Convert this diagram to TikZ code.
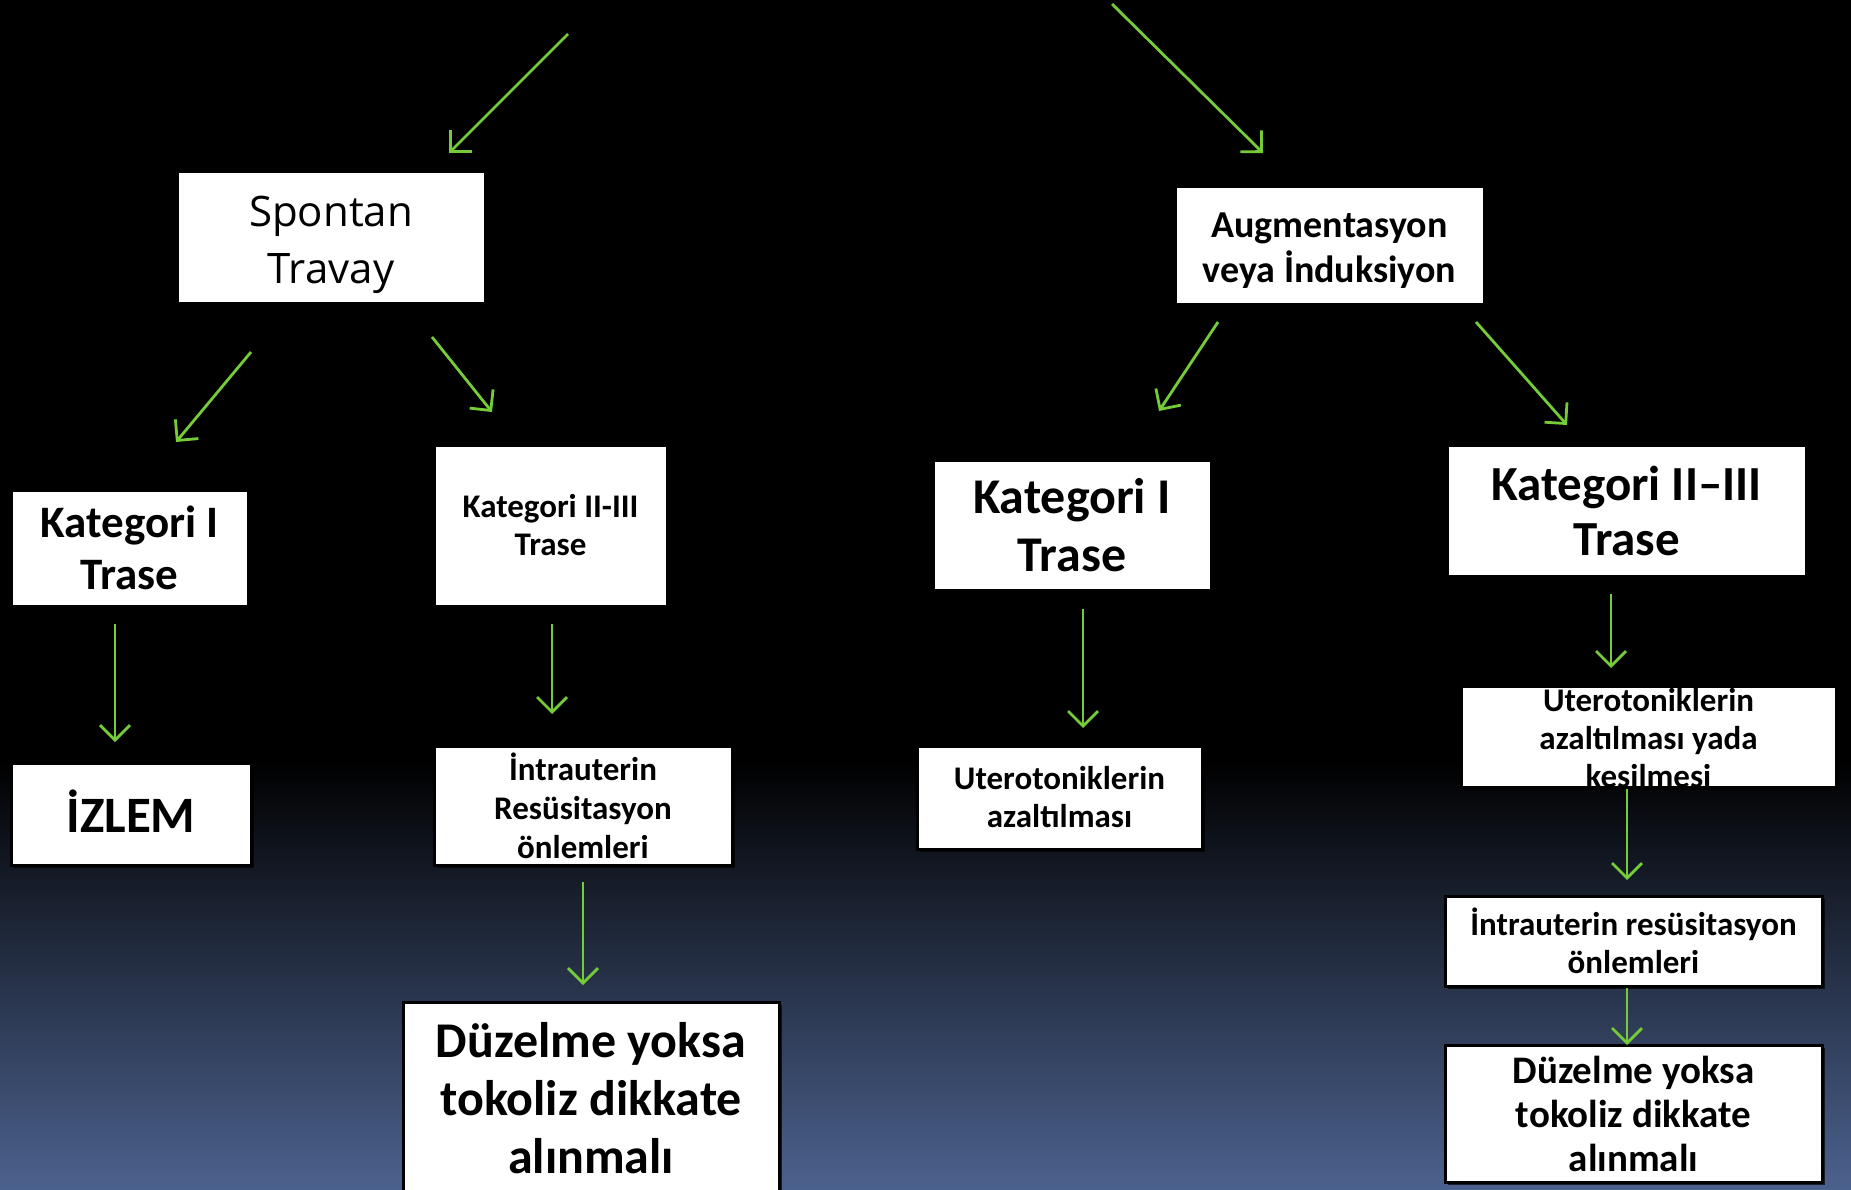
\documentclass[tikz,border=0pt]{standalone}
\usepackage{fontspec}
\setmainfont{Carlito}
\newfontfamily\spfont{Open Sans}
\usetikzlibrary{arrows.meta,shadows}
\definecolor{bgblue}{RGB}{76,98,142}
\definecolor{arrgreen}{RGB}{118,204,56}
\tikzset{
  box/.style={draw=black, line width=3pt, fill=white, inner sep=0pt, align=center, text=black,
    drop shadow={shadow xshift=3pt, shadow yshift=-3pt, fill=black, opacity=0.7}},
  txt/.style={inner sep=0pt, align=center, text=black},
  arr/.style={draw=arrgreen, line width=2.8pt, -{Straight Barb[length=15pt,width=30pt]}},
  fs/.style n args={2}{font=\bfseries\fontsize{#1}{#2}\selectfont}
}
\begin{document}
\begin{tikzpicture}[x=1pt,y=-1pt]
\useasboundingbox (0,0) rectangle (1851,1190);
\clip (0,0) rectangle (1851,1190);
\fill[black] (0,0) rectangle (1851,762);
\shade[top color=black, bottom color=bgblue] (0,760) rectangle (1851,1191);

% boxes
\node[box, minimum width=308pt, minimum height=131pt] (spon) at (331,237.5) {};
\node[txt, font=\spfont\fontsize{42}{57}\selectfont] at (331,245) {Spontan\\Travay};
\node[box, minimum width=309pt, minimum height=117pt] (aug) at (1329.5,245.5) {};
\node[txt, fs={38}{45}] at (1329.5,250.5) {Augmentasyon\\veya İnduksiyon};
\node[box, minimum width=237pt, minimum height=116pt, fs={45}{52}] (k1l) at (129.5,548) {Kategori I\\Trase};
\node[box, minimum width=233pt, minimum height=161pt, fs={33}{38}] (k2l) at (550.5,525.5) {Kategori II-III\\Trase};
\node[box, minimum width=278pt, minimum height=130pt, fs={50}{58}] (k1r) at (1072,525) {Kategori I\\Trase};
\node[box, minimum width=359pt, minimum height=131pt, fs={49}{55}] (k2r) at (1626.5,510.5) {Kategori II–III\\Trase};
\node[box, minimum width=240pt, minimum height=102pt] (izlem) at (131,814) {};
\node[txt, fs={51}{58}] at (131,811) {İZLEM};
\node[box, minimum width=298pt, minimum height=119pt, fs={33}{39}] (intl) at (583,805.5) {İntrauterin\\Resüsitasyon\\önlemleri};
\node[box, minimum width=376pt, minimum height=200pt] (duzl) at (591,1102) {};
\node[txt, fs={50}{58}] at (591,1098) {Düzelme yoksa\\tokoliz dikkate\\alınmalı};
\node[box, minimum width=285pt, minimum height=103pt, fs={33}{38}] (ut1) at (1059.5,797.5) {Uterotoniklerin\\azaltılması};
\node[box, minimum width=375pt, minimum height=101pt] (ut2) at (1648.5,736.5) {};
\node[txt, fs={33}{38}] at (1648.5,738) {Uterotoniklerin\\azaltılması yada\\kesilmesi};
\node[box, minimum width=377pt, minimum height=90pt, fs={33}{38}] (intr) at (1633.5,941) {İntrauterin resüsitasyon\\önlemleri};
\node[box, minimum width=377pt, minimum height=137pt, fs={39}{44}] (duzr) at (1633.5,1113.5) {Düzelme yoksa\\tokoliz dikkate\\alınmalı};

% arrow end points
\coordinate (a1s) at (568,34);   \coordinate (a1e) at (449,153);
\coordinate (a2s) at (1112,4);   \coordinate (a2e) at (1263,153);
\coordinate (a3s) at (251,352);  \coordinate (a3e) at (176,442);
\coordinate (a4s) at (432,337);  \coordinate (a4e) at (492,412);
\coordinate (a5s) at (1218,322); \coordinate (a5e) at (1159,411);
\coordinate (a6s) at (1476,322); \coordinate (a6e) at (1567,425);
\coordinate (a7s) at (115,624);  \coordinate (a7e) at (115,742);
\coordinate (a8s) at (552,624);  \coordinate (a8e) at (552,714);
\coordinate (a9s) at (1083,609); \coordinate (a9e) at (1083,728);
\coordinate (a10s) at (1611,594); \coordinate (a10e) at (1611,668);
\coordinate (a11s) at (1627,789); \coordinate (a11e) at (1627,880);
\coordinate (a12s) at (583,882);  \coordinate (a12e) at (583,985);
\coordinate (a13s) at (1627,988); \coordinate (a13e) at (1627,1045);

\foreach \i in {1,...,13} { \draw[arr] (a\i s) -- (a\i e); }
\end{tikzpicture}
\end{document}
